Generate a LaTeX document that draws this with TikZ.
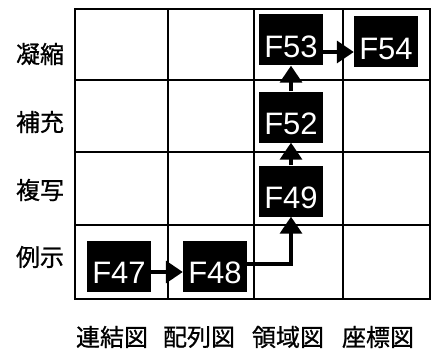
\documentclass[tikz,border=0pt]{standalone}
\usepackage{fontspec}
\setmainfont{Liberation Sans}
\newfontfamily\cjk[FakeBold=0.8]{Noto Sans CJK JP}
\usetikzlibrary{arrows.meta}
\begin{document}
\begin{tikzpicture}[x=1pt,y=-1pt,
  fbox/.style={fill=black,text=white,minimum width=64pt,minimum height=51pt,inner sep=0pt,
    text height=40pt,text depth=5pt,font=\fontsize{31}{31}\selectfont},
  lab/.style={font=\cjk\fontsize{24}{24}\selectfont,inner sep=0pt},
  grid/.style={line width=2.5pt},
  conn/.style={line width=3.5pt,-{Triangle[length=17pt,width=22pt]}}]
\useasboundingbox (0,0) rectangle (435,350);
% grid
\draw[grid] (75,9) rectangle (430,299);
\foreach \x in {168,254,343} \draw[grid] (\x,9) -- (\x,299);
\foreach \y in {80,152,225} \draw[grid] (75,\y) -- (430,\y);
% row labels
\node[lab] (r1) at (40,54) {凝縮};
\node[lab] (r2) at (40,122) {補充};
\node[lab] (r3) at (40,190) {複写};
\node[lab] (r4) at (40,257) {例示};
% column labels
\node[lab] (c1) at (112,337) {連結図};
\node[lab] (c2) at (199,337) {配列図};
\node[lab] (c3) at (288,337) {領域図};
\node[lab] (c4) at (378,337) {座標図};
% boxes
\node[fbox] (f47) at (119,266) {F47};
\node[fbox] (f48) at (215,266) {F48};
\node[fbox] (f49) at (291,191) {F49};
\node[fbox] (f52) at (291,117) {F52};
\node[fbox] (f53) at (291,40) {F53};
\node[fbox] (f54) at (386,42) {F54};
% connectors
\draw[conn] (f47.east |- 0,272) -- (f48.west |- 0,272);
\draw[conn] (f48.east |- 0,264) -| (f49.south);
\draw[conn] (f49.north) -- (f52.south);
\draw[conn] (f52.north) -- (f53.south);
\draw[conn] (f53.east |- 0,52) -- (f54.west |- 0,52);
\end{tikzpicture}
\end{document}
